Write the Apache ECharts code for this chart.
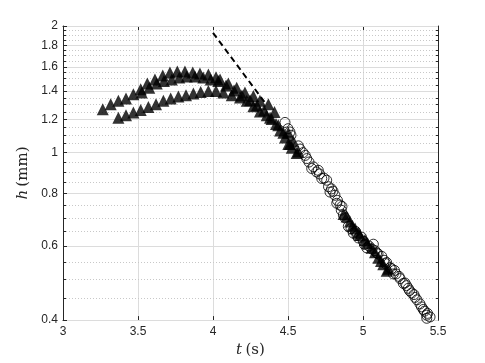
<!DOCTYPE html>
<html>
<head>
<meta charset="utf-8">
<script src="https://cdn.jsdelivr.net/npm/echarts@6/dist/echarts.min.js"></script>
<style>
  html, body { margin: 0; padding: 0; background: #fff; }
  #chart { width: 485px; height: 363px; }
</style>
</head>
<body>
<div id="chart"></div>
<script>
// ticks
const xTicks = [3, 3.5, 4, 4.5, 5, 5.5]
const yMajor = [0.4, 0.6, 0.8, 1, 1.2, 1.4, 1.6, 1.8, 2]
const yMinor = [0.45, 0.5, 0.55, 0.65, 0.7, 0.75, 0.85, 0.9, 0.95, 1.05, 1.1, 1.15,
  1.25, 1.3, 1.35, 1.45, 1.5, 1.55, 1.65, 1.7, 1.75, 1.85, 1.9, 1.95]

// triangles: upper arc (two rows) and lower arc, [t, h]
const triUpperA = [[3.265, 1.269], [3.318, 1.303], [3.369, 1.328], [3.42, 1.345], [3.469, 1.376],
  [3.518, 1.414], [3.562, 1.461], [3.613, 1.493], [3.665, 1.526], [3.713, 1.55], [3.762, 1.56],
  [3.813, 1.56], [3.865, 1.55], [3.913, 1.542], [3.969, 1.534], [4.02, 1.51], [4.047, 1.493],
  [4.102, 1.461], [4.158, 1.427], [4.213, 1.389], [4.269, 1.364], [4.313, 1.328], [4.369, 1.303],
  [4.41, 1.25], [4.447, 1.129], [4.48, 1.087], [4.525, 1.027]]
const triUpperB = [[3.525, 1.389], [3.575, 1.426], [3.625, 1.461], [3.673, 1.48], [3.725, 1.493],
  [3.775, 1.509], [3.825, 1.517], [3.88, 1.517], [3.935, 1.509], [3.985, 1.493], [4.035, 1.48],
  [4.087, 1.445], [4.14, 1.406], [4.193, 1.368], [4.247, 1.332], [4.293, 1.296], [4.34, 1.26],
  [4.38, 1.21], [4.42, 1.17], [4.502, 1.049], [4.558, 0.998]]
const triLower = [[3.369, 1.211], [3.42, 1.228], [3.469, 1.246], [3.518, 1.263], [3.569, 1.284],
  [3.62, 1.303], [3.669, 1.328], [3.718, 1.345], [3.769, 1.359], [3.82, 1.369], [3.869, 1.383],
  [3.918, 1.393], [3.969, 1.401], [4.02, 1.401], [4.069, 1.389], [4.125, 1.369], [4.18, 1.352],
  [4.225, 1.328], [4.269, 1.29], [4.313, 1.253], [4.358, 1.228], [4.391, 1.202], [4.435, 1.162],
  [4.469, 1.115], [4.502, 1.115], [4.513, 1.049], [4.535, 1.065], [4.569, 1.007]]
const triTail = [[4.87, 0.715], [4.891, 0.705], [4.913, 0.686], [4.93, 0.67], [4.947, 0.66],
  [4.97, 0.645], [4.98, 0.637], [5.013, 0.62], [5.03, 0.61], [5.058, 0.594], [5.08, 0.58],
  [5.102, 0.563], [5.12, 0.553], [5.135, 0.543], [5.158, 0.524], [5.17, 0.53]]

// open circles
const circles = [[4.48, 1.18], [4.5, 1.14], [4.513, 1.12], [4.52, 1.1], [4.569, 1.038], [4.58, 1.02],
  [4.6, 1.0], [4.615, 0.985], [4.625, 0.968], [4.64, 0.95], [4.658, 0.917], [4.67, 0.925],
  [4.69, 0.9], [4.702, 0.908], [4.71, 0.89], [4.725, 0.868], [4.74, 0.87], [4.758, 0.86],
  [4.77, 0.83], [4.78, 0.806], [4.79, 0.82], [4.8, 0.81], [4.813, 0.792], [4.825, 0.758],
  [4.83, 0.77], [4.847, 0.751], [4.855, 0.73], [4.86, 0.745], [4.869, 0.711], [4.88, 0.7],
  [4.902, 0.668], [4.92, 0.66], [4.935, 0.644], [4.95, 0.65], [4.96, 0.635], [4.969, 0.627],
  [4.99, 0.63], [5.002, 0.616], [5.01, 0.605], [5.025, 0.594], [5.04, 0.6], [5.06, 0.59],
  [5.069, 0.606], [5.08, 0.585], [5.091, 0.578], [5.1, 0.575], [5.125, 0.567], [5.14, 0.555],
  [5.15, 0.545], [5.158, 0.548], [5.18, 0.533], [5.19, 0.53], [5.202, 0.515], [5.21, 0.525],
  [5.22, 0.515], [5.24, 0.508], [5.247, 0.502], [5.269, 0.489], [5.28, 0.49], [5.29, 0.483],
  [5.302, 0.476], [5.31, 0.47], [5.325, 0.464], [5.34, 0.46], [5.347, 0.453], [5.36, 0.447],
  [5.38, 0.437], [5.39, 0.43], [5.402, 0.424], [5.41, 0.42], [5.425, 0.411], [5.43, 0.415],
  [5.447, 0.407], [5.425, 0.404]]

// dashed line
const dashLine = [[4.0, 1.926], [4.35, 1.31]]

const axisColor = '#262626'
const labelFont = 'Liberation Sans'

function fmt (v) {
  return String(+(+v).toFixed(2))
}

let chart = echarts.init(document.getElementById('chart'), null, { renderer: 'canvas' })

let triStyle = {
  type: 'scatter',
  symbol: 'triangle',
  symbolSize: 12,
  itemStyle: { color: '#000' },
  silent: true,
  z: 3
}

let option = {
  animation: false,
  backgroundColor: '#fff',
  grid: { left: 63, right: 47, top: 26, bottom: 40 },
  xAxis: [
    {
      type: 'value',
      min: 3,
      max: 5.5,
      interval: 0.5,
      name: '{i|t} {r|(s)}',
      nameLocation: 'middle',
      nameGap: 19,
      nameTextStyle: {
        rich: {
          i: { fontFamily: 'DejaVu Serif', fontStyle: 'italic', fontSize: 15, color: axisColor },
          r: { fontFamily: 'DejaVu Serif', fontSize: 15, color: axisColor }
        }
      },
      axisLine: { lineStyle: { color: axisColor, width: 1 } },
      axisTick: { inside: true, length: 4, lineStyle: { color: axisColor } },
      axisLabel: { color: axisColor, fontSize: 12, fontFamily: labelFont, margin: 6, formatter: fmt },
      splitLine: { show: true, lineStyle: { color: '#dcdcdc', width: 1 } }
    },
    {
      type: 'value',
      position: 'top',
      min: 3,
      max: 5.5,
      interval: 0.5,
      axisLine: { show: true, lineStyle: { color: axisColor, width: 1 } },
      axisTick: { inside: true, length: 4, lineStyle: { color: axisColor } },
      axisLabel: { show: false },
      splitLine: { show: false }
    }
  ],
  yAxis: [
    {
      type: 'log',
      logBase: 10,
      min: 0.4,
      max: 2,
      name: '{i|h} {r|(mm)}',
      nameLocation: 'middle',
      nameRotate: 90,
      nameGap: 29,
      nameTextStyle: {
        rich: {
          i: { fontFamily: 'DejaVu Serif', fontStyle: 'italic', fontSize: 15, color: axisColor },
          r: { fontFamily: 'DejaVu Serif', fontSize: 15, color: axisColor }
        }
      },
      axisLine: { show: true, lineStyle: { color: axisColor, width: 1 } },
      axisTick: { inside: true, length: 4, customValues: yMajor, lineStyle: { color: axisColor } },
      axisLabel: { color: axisColor, fontSize: 12, fontFamily: labelFont, margin: 5, customValues: yMajor, formatter: fmt },
      splitLine: { show: true, lineStyle: { color: '#dcdcdc', width: 1 } },
      z: 2
    },
    {
      type: 'log',
      logBase: 10,
      min: 0.4,
      max: 2,
      position: 'left',
      axisLine: { show: false },
      axisTick: { inside: true, length: 3, customValues: yMinor, lineStyle: { color: axisColor } },
      axisLabel: { show: false },
      splitLine: { show: true, lineStyle: { color: '#c8c8c8', width: 1, type: [1, 2] } },
      z: 1
    },
    {
      type: 'log',
      logBase: 10,
      min: 0.4,
      max: 2,
      position: 'right',
      axisLine: { show: true, lineStyle: { color: axisColor, width: 1 } },
      axisTick: { inside: true, length: 4, customValues: yMajor, lineStyle: { color: axisColor } },
      axisLabel: { show: false },
      splitLine: { show: false }
    },
    {
      type: 'log',
      logBase: 10,
      min: 0.4,
      max: 2,
      position: 'right',
      axisLine: { show: false },
      axisTick: { inside: true, length: 3, customValues: yMinor, lineStyle: { color: axisColor } },
      axisLabel: { show: false },
      splitLine: { show: false }
    }
  ],
  series: [
    Object.assign({ name: 'upperA', data: triUpperA }, triStyle),
    Object.assign({ name: 'upperB', data: triUpperB }, triStyle),
    Object.assign({ name: 'lower', data: triLower }, triStyle),
    Object.assign({ name: 'tail', data: triTail }, triStyle),
    {
      name: 'circles',
      type: 'scatter',
      symbol: 'circle',
      symbolSize: 10,
      data: circles,
      itemStyle: { color: 'rgba(0,0,0,0)', borderColor: '#000', borderWidth: 1 },
      silent: true,
      z: 4
    },
    {
      name: 'fit',
      type: 'line',
      data: dashLine,
      symbol: 'none',
      lineStyle: { color: '#000', width: 2, type: [6, 4] },
      silent: true,
      z: 2
    }
  ]
}

option && chart.setOption(option)
</script>
</body>
</html>
